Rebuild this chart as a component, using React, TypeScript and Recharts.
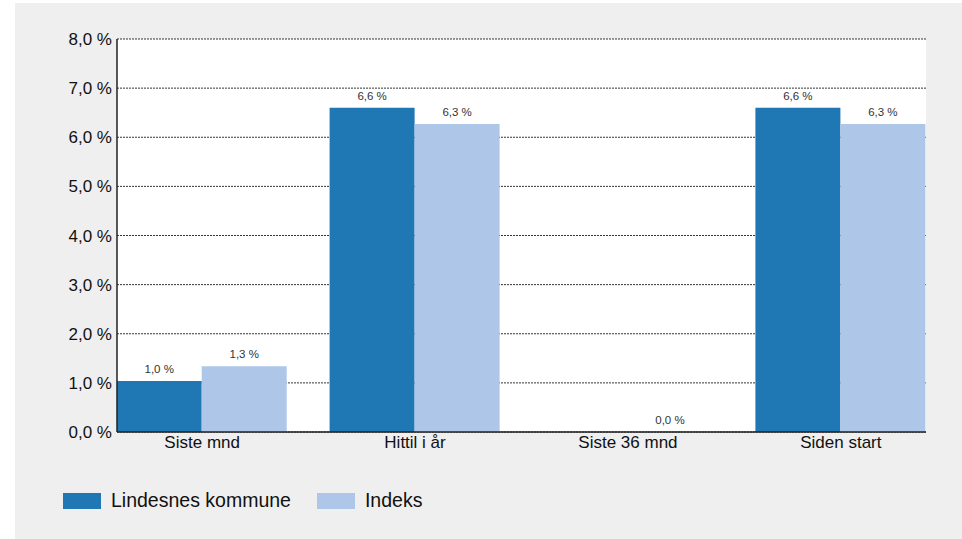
import { BarChart, Bar, XAxis, YAxis, CartesianGrid, LabelList } from 'recharts';

const categories = ['Siste mnd', 'Hittil i år', 'Siste 36 mnd', 'Siden start'];
const lindesnes: (number | null)[] = [1.04, 6.6, null, 6.6];
const indeks: (number | null)[] = [1.34, 6.27, 0, 6.27];
const yTicks = [0, 1, 2, 3, 4, 5, 6, 7, 8];

const series = [
  { key: 'lindesnes', name: 'Lindesnes kommune', color: '#1f77b4' },
  { key: 'indeks', name: 'Indeks', color: '#aec7e8' },
];

const data = categories.map((c, i) => ({
  x: i,
  name: c,
  lindesnes: lindesnes[i],
  indeks: indeks[i],
}));

const fmt = (v: number) => `${v.toFixed(1).replace('.', ',')} %`;
const labelFmt = (v: unknown) => (v == null ? '' : fmt(Number(v)));

export default function App() {
  return (
    <div style={{ position: 'absolute', left: 0, top: 0, width: 962, height: 539, background: '#fff', fontFamily: '"Liberation Sans", Arial, sans-serif' }}>
      <div style={{ position: 'absolute', left: 15, top: 3, width: 947, height: 536, background: '#efefef' }} />
      <div style={{ position: 'absolute', left: 117, top: 39, width: 809, height: 393, background: '#fff' }} />
      <div style={{ position: 'absolute', left: 0, top: 0 }}>
        <BarChart width={962} height={539} data={data} margin={{ top: 39, right: 36, left: 0, bottom: 77 }} barGap={0} barCategoryGap={0}>
          <CartesianGrid vertical={false} stroke="#000" strokeDasharray="2 1" strokeWidth={0.8} />
          <XAxis
            type="number"
            dataKey="x"
            domain={[-0.4, 3.4]}
            ticks={[0, 1, 2, 3]}
            tickFormatter={(i: number) => categories[i]}
            height={30}
            tickSize={0}
            tickMargin={4}
            axisLine={{ stroke: '#222', strokeWidth: 1.5 }}
            tick={{ fontSize: 17, fill: '#111' }}
            allowDataOverflow
          />
          <YAxis
            domain={[0, 8]}
            ticks={yTicks}
            width={117}
            tickSize={0}
            tickMargin={5}
            tickFormatter={fmt}
            axisLine={{ stroke: '#222', strokeWidth: 1.5 }}
            tick={{ fontSize: 17, fill: '#111' }}
          />
          {series.map(s => (
            <Bar key={s.key} dataKey={s.key} name={s.name} fill={s.color} barSize={85} minPointSize={0.3} isAnimationActive={false}>
              <LabelList dataKey={s.key} position="top" offset={8} formatter={labelFmt} style={{ fontSize: 11.5, fill: '#333' }} />
            </Bar>
          ))}
        </BarChart>
      </div>
      <div style={{ position: 'absolute', left: 63, top: 489, display: 'flex', alignItems: 'center', fontSize: 19.5, color: '#111' }}>
        {series.map((s, i) => (
          <div key={s.key} style={{ display: 'flex', alignItems: 'center', marginLeft: i === 0 ? 0 : 26 }}>
            <div style={{ width: 38, height: 16, background: s.color, marginRight: 10 }} />
            <span>{s.name}</span>
          </div>
        ))}
      </div>
    </div>
  );
}
